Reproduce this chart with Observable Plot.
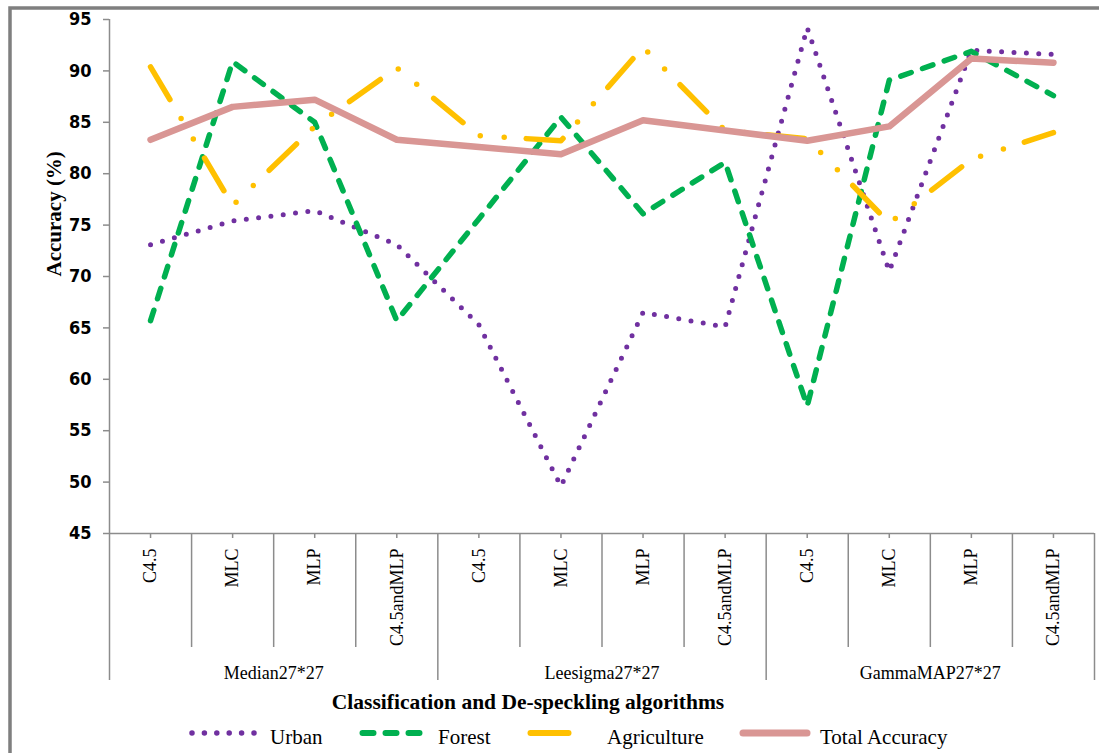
<!DOCTYPE html>
<html>
<head>
<meta charset="utf-8">
<script src="https://cdn.jsdelivr.net/npm/d3@7"></script>
<script src="https://cdn.jsdelivr.net/npm/@observablehq/plot@0.6"></script>
<style>
  html, body { margin: 0; padding: 0; background: #fff; }
  #chart svg { display: block; }
</style>
</head>
<body>
<div id="chart"></div>
<script>
// Classification methods, repeated under each de-speckling filter
const methods = ["C4.5", "MLC", "MLP", "C4.5andMLP", "C4.5", "MLC", "MLP", "C4.5andMLP", "C4.5", "MLC", "MLP", "C4.5andMLP"];
const filters = ["Median27*27", "Leesigma27*27", "GammaMAP27*27"];
const methodsPerFilter = 4;

// Accuracy (%) per class and overall
const urban       = [73.1, 75.4, 76.4, 73.1, 65.3, 49.6, 66.5, 65.1, 94.2, 70.5, 92.0, 91.6];
const forest      = [65.7, 90.9, 85.0, 65.7, 75.6, 85.5, 76.1, 81.1, 57.4, 89.1, 91.9, 87.6];
const agriculture = [90.4, 76.9, 84.6, 90.3, 83.7, 83.2, 92.3, 84.2, 83.4, 75.2, 81.4, 84.0];
const total       = [83.3, 86.5, 87.2, 83.3, 82.6, 81.9, 85.2, 84.2, 83.2, 84.6, 91.2, 90.8];

const yTicks = [45, 50, 55, 60, 65, 70, 75, 80, 85, 90, 95];

const serif = "'Liberation Serif', 'Times New Roman', Times, serif";
const narrow = "'DejaVu Sans Condensed', 'Liberation Sans Narrow', 'Arial Narrow', 'DejaVu Sans', sans-serif";
const axisGray = "#8c8c8c";

const series = [
  {name: "Urban", values: urban, stroke: "#7030A0", width: 5, dash: "0 12.4"},
  {name: "Forest", values: forest, stroke: "#00B050", width: 5.5, dash: "11 12"},
  {name: "Agriculture", values: agriculture, stroke: "#FFC000", width: 5.5, dash: "38 22 0 24 0 22"},
  {name: "Total Accuracy", values: total, stroke: "#D99694", width: 6.5, dash: null}
];

const idx = methods.map((_, i) => i);
const n = methods.length;
// category borders: minor within a filter group, major between groups
const minorBounds = idx.slice(0, -1).filter(i => (i + 1) % methodsPerFilter !== 0).map(i => i + 0.5);
const majorBounds = [-0.5, ...filters.map((_, g) => (g + 1) * methodsPerFilter - 0.5)];

const lineMarks = series.map(s => Plot.line(s.values, {
  x: (d, i) => i,
  y: d => d,
  stroke: s.stroke,
  strokeWidth: s.width,
  strokeDasharray: s.dash ?? undefined,
  strokeLinecap: "round",
  strokeLinejoin: "round"
}));

const chart = Plot.plot({
  width: 1099,
  height: 753,
  marginLeft: 109,
  marginRight: 5,
  marginTop: 19,
  marginBottom: 220,
  style: {fontFamily: serif, fontSize: "18px", background: "#fff", color: "#000", overflow: "visible"},
  x: {domain: [-0.5, n - 0.5], axis: null},
  y: {domain: [45, 95], axis: null},
  marks: [
    // y axis line, ticks and labels
    Plot.ruleX([-0.5], {x: d => d, stroke: axisGray, strokeWidth: 1.5}),
    Plot.ruleY(yTicks, {y: d => d, x1: () => -0.5, x2: () => -0.5, insetLeft: -6, stroke: axisGray, strokeWidth: 1.5}),
    Plot.text(yTicks, {x: () => -0.5, y: d => d, text: d => String(d), dx: -18, textAnchor: "end",
      fontFamily: narrow, fontWeight: "bold", fontSize: 18, fill: "#000"}),
    // x axis line, centre ticks and category borders
    Plot.ruleY([45], {y: d => d, x1: () => -0.5, x2: () => n - 0.5, stroke: axisGray, strokeWidth: 1.5}),
    Plot.ruleX(idx, {x: d => d, y1: () => 45, y2: () => 45, insetBottom: -5, stroke: axisGray, strokeWidth: 1.5}),
    Plot.ruleX(minorBounds, {x: d => d, y1: () => 45, y2: () => 45, insetBottom: -114, stroke: axisGray, strokeWidth: 1.5}),
    Plot.ruleX(majorBounds, {x: d => d, y1: () => 45, y2: () => 45, insetBottom: -147, stroke: axisGray, strokeWidth: 1.5}),
    // category and filter labels
    Plot.text(idx, {x: d => d, y: () => 45, text: i => methods[i], rotate: -90, textAnchor: "end", dy: 15,
      fontSize: 18, fill: "#000"}),
    Plot.text(filters, {x: (d, g) => g * methodsPerFilter + (methodsPerFilter - 1) / 2, y: () => 45, text: d => d,
      dy: 140, fontSize: 18, fill: "#000"}),
    // y axis title
    Plot.text(["Accuracy (%)"], {frameAnchor: "left", text: d => d, rotate: -90, dx: -55,
      fontFamily: serif, fontWeight: "bold", fontSize: 21, fill: "#000"}),
    ...lineMarks
  ]
});

const svg = d3.select(chart);

// x axis title
svg.append("text")
  .attr("x", 528).attr("y", 709)
  .attr("text-anchor", "middle")
  .attr("font-family", serif).attr("font-weight", "bold").attr("font-size", 21.5)
  .attr("fill", "#000")
  .text("Classification and De-speckling algorithms");

// legend
const legendItems = [
  {x0: 192, x1: 256.5, label: 270},
  {x0: 362.5, x1: 421.5, label: 438},
  {x0: 530.5, x1: 571.5, label: 607},
  {x0: 743, x1: 807, label: 820}
];
const legend = svg.append("g").attr("aria-label", "legend");
series.forEach((s, k) => {
  const it = legendItems[k];
  legend.append("path")
    .attr("d", `M${it.x0},733H${it.x1}`)
    .attr("fill", "none")
    .attr("stroke", s.stroke)
    .attr("stroke-width", s.width + 0.5)
    .attr("stroke-linecap", "round")
    .attr("stroke-dasharray", s.dash);
  legend.append("text")
    .attr("x", it.label).attr("y", 744)
    .attr("text-anchor", "start")
    .attr("font-family", serif).attr("font-size", 21)
    .attr("fill", "#000")
    .text(s.name);
});

// chart-area border
svg.append("rect")
  .attr("x", 10).attr("y", 8)
  .attr("width", 1100).attr("height", 760)
  .attr("fill", "none")
  .attr("stroke", "#7f7f7f")
  .attr("stroke-width", 3.5);

document.getElementById("chart").appendChild(chart);
</script>
</body>
</html>
